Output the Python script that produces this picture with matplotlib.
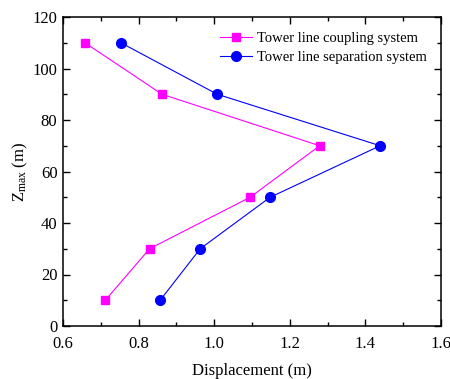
import matplotlib
matplotlib.use("Agg")
import matplotlib.pyplot as plt
from matplotlib.ticker import MultipleLocator

plt.rcParams['font.family'] = ['Liberation Serif', 'DejaVu Serif']
plt.rcParams['mathtext.fontset'] = 'custom'
plt.rcParams['mathtext.rm'] = 'Liberation Serif'
plt.rcParams['mathtext.it'] = 'Liberation Serif:italic'

# Data
height = [110, 90, 70, 50, 30, 10]
coupling = [0.658, 0.862, 1.279, 1.095, 0.829, 0.712]
separation = [0.753, 1.008, 1.439, 1.148, 0.963, 0.857]

fig = plt.figure(figsize=(4.5, 3.79), dpi=100)
ax = fig.add_axes([63 / 450, 1 - 326 / 379, 378 / 450, 309 / 379])

ax.plot(coupling, height, '-s', color='#ff00ff', lw=0.8, ms=6,
        label='Tower line coupling system')
ax.plot(separation, height, '-o', color='#0000ff', lw=0.8, ms=7,
        label='Tower line separation system')

ax.set_xlim(0.6, 1.6)
ax.set_ylim(0, 120)
ax.xaxis.set_major_locator(MultipleLocator(0.2))
ax.xaxis.set_minor_locator(MultipleLocator(0.1))
ax.yaxis.set_major_locator(MultipleLocator(20))
ax.yaxis.set_minor_locator(MultipleLocator(10))
ax.set_xticklabels([f"{v:.1f}" for v in ax.get_xticks()])
ax.tick_params(which='both', direction='in', top=True, right=True, labelsize=12, width=1)
ax.tick_params(which='major', length=5)
ax.tick_params(which='minor', length=3)
ax.tick_params(axis='x', pad=7)
ax.tick_params(axis='y', pad=4)
for s in ax.spines.values():
    s.set_linewidth(1.1)

ax.set_xlabel('Displacement (m)', fontsize=12, labelpad=8)
ax.set_ylabel('Z$_{\\mathrm{max}}$ (m)', fontsize=12, labelpad=2)

ax.legend(loc='upper right', frameon=False, fontsize=10.5, handlelength=2.2,
          handletextpad=0.3, borderaxespad=0.6, labelspacing=0.4)

fig.savefig('out.png', dpi=100)
